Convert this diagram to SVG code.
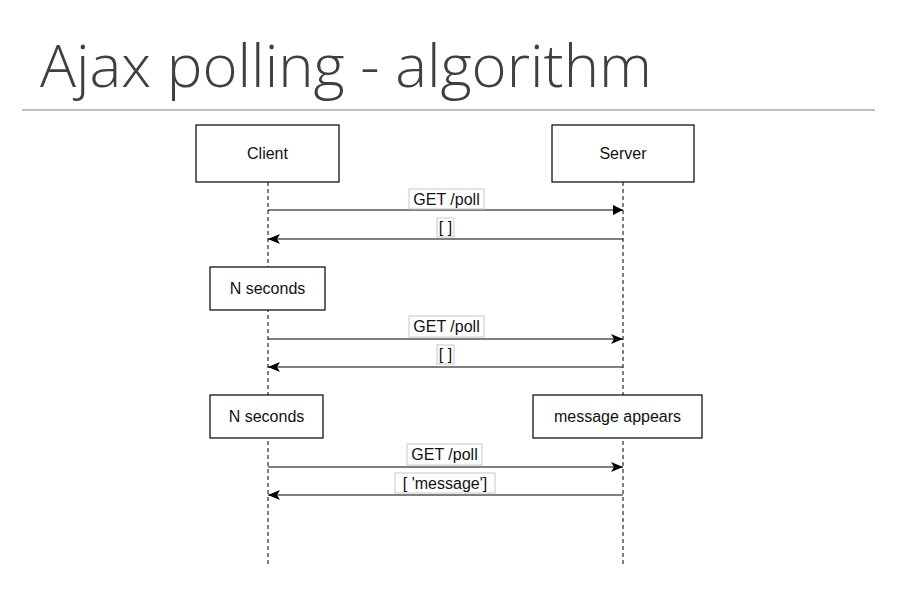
<svg xmlns="http://www.w3.org/2000/svg" width="900" height="600" viewBox="0 0 900 600">
<defs>
<marker id="block" viewBox="0 0 10 10" refX="10" refY="5" markerWidth="10" markerHeight="10" markerUnits="userSpaceOnUse" orient="auto"><path d="M0,0 L10,5 L0,10 Z" fill="#000"/></marker>
<marker id="classic" viewBox="0 0 12 10" refX="12" refY="5" markerWidth="12" markerHeight="10" markerUnits="userSpaceOnUse" orient="auto"><path d="M0,0 L12,5 L0,10 L3,5 Z" fill="#000"/></marker>
<style>
.box{fill:#fff;stroke:#000;stroke-width:1.2}
.t{font-family:"Liberation Sans",Arial,sans-serif;font-size:16px;fill:#111;text-anchor:middle;dominant-baseline:central}
.life{stroke:#000;stroke-width:1;stroke-dasharray:4 3;fill:none}
.msg{stroke:#000;stroke-width:1.2;fill:none}
.lbl{fill:#fff;stroke:#c8c8c8;stroke-width:1}
</style>
</defs>
<rect width="900" height="600" fill="#fff"/>
<text x="40" y="87" font-family="'Open Sans','Noto Sans',sans-serif" font-weight="300" font-size="58" fill="#404040" textLength="612" lengthAdjust="spacingAndGlyphs">Ajax polling - algorithm</text>
<line x1="22" y1="110" x2="875" y2="110" stroke="#808080" stroke-width="1"/>
<g id="lifelines">
<line class="life" x1="268" y1="182" x2="268" y2="567"/>
<line class="life" x1="623" y1="182" x2="623" y2="567"/>
</g>
<g id="client"><rect class="box" x="196" y="125" width="143" height="57"/><text class="t" x="267.5" y="153.5">Client</text></g>
<g id="server"><rect class="box" x="552" y="125" width="142" height="57"/><text class="t" x="623" y="153.5">Server</text></g>
<g id="wait1"><rect class="box" x="210" y="267" width="115" height="43"/><text class="t" x="267.5" y="288.5">N seconds</text></g>
<g id="wait2"><rect class="box" x="210" y="395" width="113" height="43"/><text class="t" x="266.5" y="416.5">N seconds</text></g>
<g id="appears"><rect class="box" x="533" y="395" width="169" height="43"/><text class="t" x="617.5" y="416.5">message appears</text></g>
<g id="connectors">
<line class="msg" x1="268" y1="210" x2="623" y2="210" marker-end="url(#block)"/>
<line class="msg" x1="623" y1="239" x2="268" y2="239" marker-end="url(#classic)"/>
<line class="msg" x1="268" y1="339" x2="623" y2="339" marker-end="url(#classic)"/>
<line class="msg" x1="623" y1="367" x2="268" y2="367" marker-end="url(#classic)"/>
<line class="msg" x1="268" y1="467" x2="623" y2="467" marker-end="url(#classic)"/>
<line class="msg" x1="623" y1="495" x2="268" y2="495" marker-end="url(#classic)"/>
<rect class="lbl" x="409" y="189" width="75" height="20"/><text class="t" x="446.5" y="199">GET /poll</text>
<rect class="lbl" x="437" y="218" width="17" height="19"/><text class="t" x="445.5" y="227.5">[ ]</text>
<rect class="lbl" x="409" y="316" width="75" height="21"/><text class="t" x="446.5" y="326">GET /poll</text>
<rect class="lbl" x="437" y="345" width="17" height="19"/><text class="t" x="445.5" y="354.5">[ ]</text>
<rect class="lbl" x="407" y="444" width="75" height="21"/><text class="t" x="444.5" y="454">GET /poll</text>
<rect class="lbl" x="395" y="473" width="100" height="20"/><text class="t" x="445" y="483">[ 'message']</text>
</g>
</svg>
